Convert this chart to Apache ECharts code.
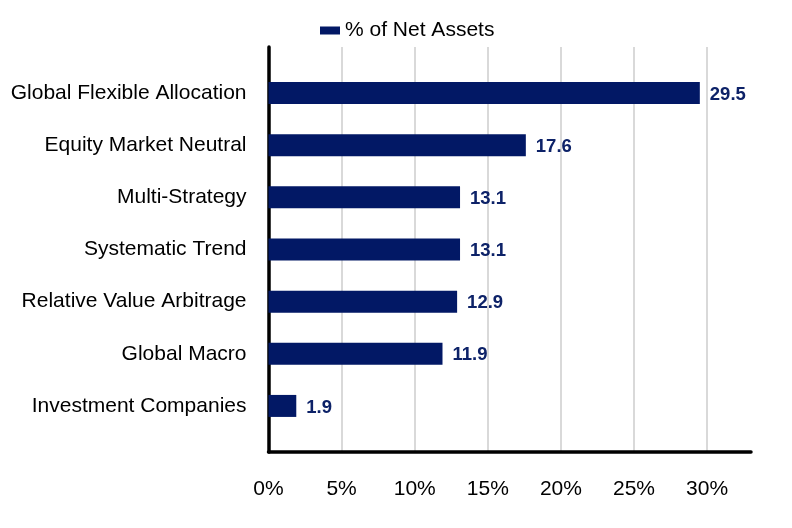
<!DOCTYPE html>
<html><head><meta charset="utf-8">
<script src="https://cdn.jsdelivr.net/npm/echarts@6/dist/echarts.min.js"></script>
<style>html,body{margin:0;padding:0;background:#fff}#c{width:792px;height:528px}</style>
</head><body><div id="c"></div>
<script>
const categories = ["Global Flexible Allocation","Equity Market Neutral","Multi-Strategy","Systematic Trend","Relative Value Arbitrage","Global Macro","Investment Companies"];
const values = [29.5, 17.6, 13.1, 13.1, 12.9, 11.9, 1.9];
const seriesName = "% of Net Assets";
const xMin = 0, xMax = 33, xStep = 5;

const navy = "#021865";
const font = "Liberation Sans, Arial, sans-serif";
const chart = echarts.init(document.getElementById('c'), null, {renderer:'canvas'});
chart.setOption({
  animation:false,
  legend:{
    data:[{name:seriesName, icon:'rect'}], left:315, top:15, itemWidth:20, itemHeight:8, itemGap:8,
    textStyle:{fontFamily:font, fontSize:21, color:'#000'}
  },
  grid:[
    {left:268.5, right:41, top:47, bottom:76, containLabel:false},
    {left:268.5, right:41, top:67, bottom:96, containLabel:false}
  ],
  xAxis:[
    {gridIndex:0, type:'value', min:xMin, max:xMax, interval:xStep,
     axisLine:{show:true, lineStyle:{color:'#000', width:3.5}},
     axisTick:{show:false},
     axisLabel:{fontFamily:font, fontSize:21, color:'#000', margin:27, showMaxLabel:false,
       formatter:v => (v%5===0 && v<=30) ? v+'%' : ''},
     splitLine:{show:true, showMaxLine:false, lineStyle:{color:'#d9d9d9', width:2}}},
    {gridIndex:1, type:'value', min:xMin, max:xMax, interval:xStep, show:false}
  ],
  yAxis:[
    {gridIndex:0, type:'value', min:0, max:1, axisLine:{show:true, lineStyle:{color:'#000', width:3.5}},
     axisLabel:{show:false}, axisTick:{show:false}, splitLine:{show:false}},
    {gridIndex:1, type:'category', data:categories, inverse:true,
     axisLine:{show:false}, axisTick:{show:false},
     axisLabel:{fontFamily:font, fontSize:21, color:'#000', margin:22, padding:[3,0,0,0]}}
  ],
  series:[{
    name:seriesName, type:'bar', xAxisIndex:1, yAxisIndex:1, data:values,
    barWidth:22, itemStyle:{color:navy},
    label:{show:true, position:'right', distance:10, offset:[0,1.5], fontFamily:font, fontSize:18.5, fontWeight:'bold', color:'#0d2268',
      formatter:p => p.value.toFixed(1)}
  }]
});
</script></body></html>
